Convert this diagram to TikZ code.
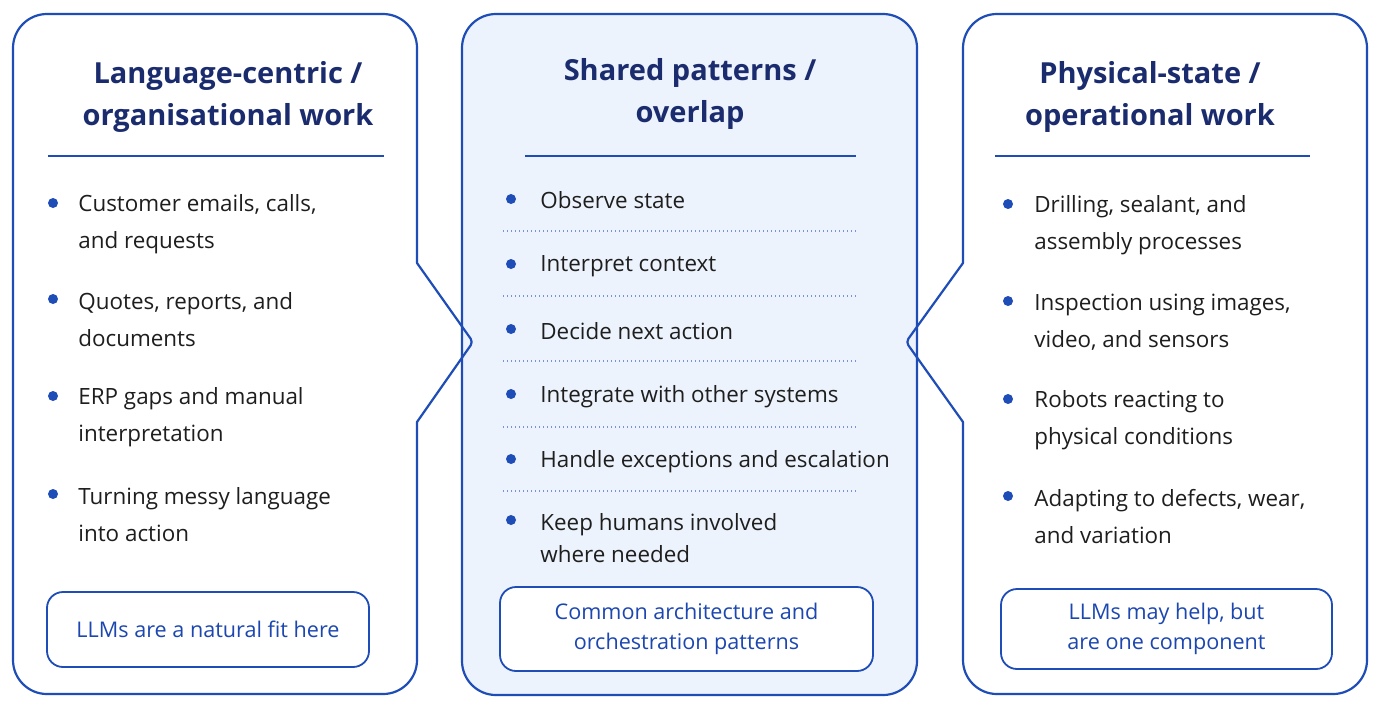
\documentclass[tikz,border=0pt]{standalone}
\usepackage{fontspec}
\setmainfont{Open Sans}
\usepackage{xcolor}
\usetikzlibrary{positioning}

\definecolor{edgeblue}{HTML}{1F4DB8}
\definecolor{navy}{HTML}{1B2C6E}
\definecolor{panelfill}{HTML}{EDF3FC}
\definecolor{boxtext}{HTML}{1C47B0}
\definecolor{bodytext}{HTML}{1E1E1E}

\begin{document}
\begin{tikzpicture}[
            x=0.5pt, y=-0.5pt,
            panel/.style={draw=edgeblue, line width=1.1pt, line cap=round, line join=round},
            title/.style={font=\fontsize{14.5}{21}\selectfont\bfseries, text=navy, align=center},
            item/.style={font=\fontsize{11.2}{18.5}\selectfont, text=bodytext, anchor=west, align=left, inner sep=0pt},
            dot/.style={circle, fill=edgeblue, inner sep=0pt, minimum size=5pt},
            note/.style={draw=edgeblue, line width=0.9pt, rounded corners=8pt, fill=white,
                font=\fontsize{10.8}{15}\selectfont, text=boxtext, align=center},
            rule/.style={draw=edgeblue, line width=0.7pt},
            dotrule/.style={draw=edgeblue!60, line width=0.6pt, dash pattern=on 0.6pt off 1.4pt}
        ]
            \path[use as bounding box, fill=white] (0,0) rectangle (1380,714);

            % Panels
            \draw[panel, fill=panelfill, rounded corners=17pt] (462,14) rectangle (917,695);
            \draw[panel, rounded corners=17pt] (417,263) -- (417,14) -- (13,14) -- (13,694) -- (417,694) -- (417,422);
            \draw[panel, rounded corners=2pt] (417,263) -- (473,342) -- (417,422);
            \draw[panel, rounded corners=17pt] (963,263) -- (963,14) -- (1367,14) -- (1367,694) -- (963,694) -- (963,422);
            \draw[panel, rounded corners=2pt] (963,263) -- (906,342) -- (963,422);

            % Titles
            \node[title] (t1) at (228,97) {Language-centric /\\organisational work};
            \node[title] (t2) at (690,94) {Shared patterns /\\overlap};
            \node[title] (t3) at (1150,96.5) {Physical-state /\\operational work};
            \draw[rule] (48,156) -- (384,156);
            \draw[rule] (525,156) -- (856,156);
            \draw[rule] (995,156) -- (1310,156);

            % Left items
            \begin{scope}[every node/.style={item}]
                \node (l1) at (78,224) {Customer emails, calls,\\and requests};
                \node (l2) at (78,320) {Quotes, reports, and\\documents};
                \node (l3) at (78,417) {ERP gaps and manual\\interpretation};
                \node (l4) at (78,515) {Turning messy language\\into action};
            \end{scope}
            \node[dot] (ld1) at (53,203) {};
            \node[dot] (ld2) at (53,299) {};
            \node[dot] (ld3) at (53,396) {};
            \node[dot] (ld4) at (53,494) {};

            % Middle items
            \begin{scope}[every node/.style={item}]
                \node (m1) at (540,200.5) {Observe state};
                \node (m2) at (540,266) {Interpret context};
                \node (m3) at (540,331) {Decide next action};
                \node (m4) at (540,396.5) {Integrate with other systems};
                \node (m5) at (540,461.5) {Handle exceptions and escalation};
                \node[font=\fontsize{11.2}{16}\selectfont] (m6) at (540,538) {Keep humans involved\\where needed};
            \end{scope}
            \node[dot] (md1) at (511,199) {};
            \node[dot] (md2) at (511,264) {};
            \node[dot] (md3) at (511,329) {};
            \node[dot] (md4) at (511,394) {};
            \node[dot] (md5) at (511,459) {};
            \node[dot] (md6) at (511,520) {};
            \draw[dotrule] (503,231) -- (858,231);
            \draw[dotrule] (503,296) -- (858,296);
            \draw[dotrule] (503,361) -- (858,361);
            \draw[dotrule] (503,427) -- (858,427);
            \draw[dotrule] (503,491) -- (858,491);

            % Right items
            \begin{scope}[every node/.style={item}]
                \node (r1) at (1034,225) {Drilling, sealant, and\\assembly processes};
                \node (r2) at (1034,322) {Inspection using images,\\video, and sensors};
                \node (r3) at (1034,420) {Robots reacting to\\physical conditions};
                \node (r4) at (1034,517) {Adapting to defects, wear,\\and variation};
            \end{scope}
            \node[dot] (rd1) at (1008,204) {};
            \node[dot] (rd2) at (1008,301) {};
            \node[dot] (rd3) at (1008,399) {};
            \node[dot] (rd4) at (1008,496) {};

            % Notes
            \node[note, minimum width=161pt, minimum height=37.5pt] (n1) at (208,629.5) {LLMs are a natural fit here};
            \node[note, minimum width=186.5pt, minimum height=42pt] (n2) at (686.5,629) {Common architecture and\\orchestration patterns};
            \node[note, minimum width=165.5pt, minimum height=40pt] (n3) at (1166.5,629) {LLMs may help, but\\are one component};
        \end{tikzpicture}
\end{document}
